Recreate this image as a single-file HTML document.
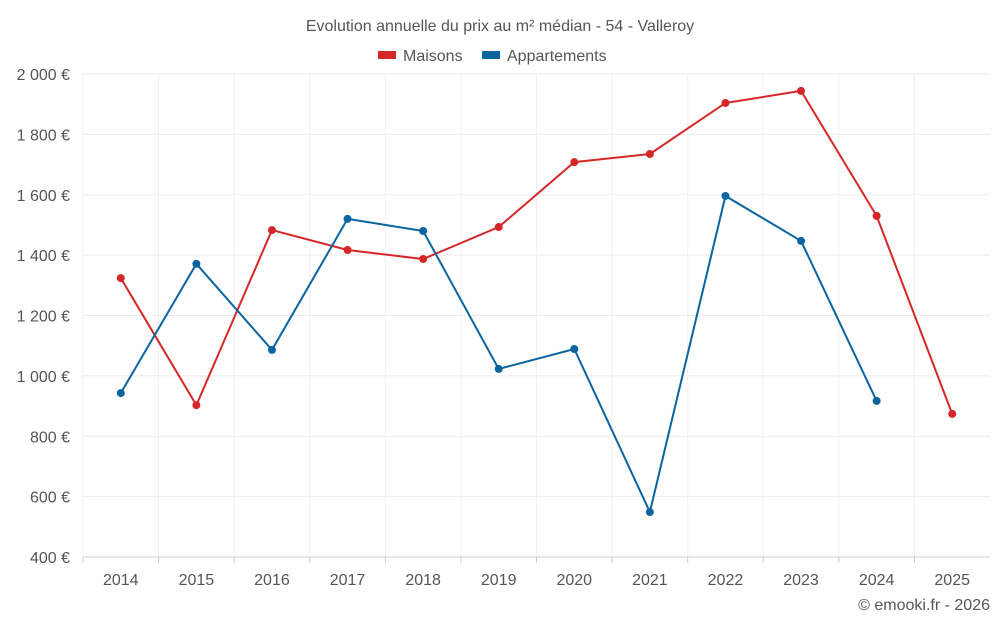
<!DOCTYPE html>
<html><head><meta charset="utf-8"><style>
body{margin:0;background:#fff;font-family:"Liberation Sans",sans-serif;}
svg text{font-family:"Liberation Sans",sans-serif;fill:#555;}
</style></head><body>
<svg id="c" width="1000" height="625"></svg>
<script>
const years=["2014","2015","2016","2017","2018","2019","2020","2021","2022","2023","2024","2025"];
const maisons=[1324,903,1483,1417,1387,1493,1708,1735,1904,1944,1530,874];
const apparts=[943,1371,1086,1520,1480,1023,1089,549,1596,1447,917,null];
const yTicks=[400,600,800,1000,1200,1400,1600,1800,2000];
const yTickLabels=["400 €","600 €","800 €","1 000 €","1 200 €","1 400 €","1 600 €","1 800 €","2 000 €"];
const svg=document.getElementById('c');const NS="http://www.w3.org/2000/svg";
const L=83,R=990,T=74,B=557;
const xs=i=>L+(R-L)/years.length*(i+0.5);
const ys=v=>B-(v-400)/1600*(B-T);
function mk(t,a,p){const e=document.createElementNS(NS,t);for(const k in a)e.setAttribute(k,a[k]);(p||svg).appendChild(e);return e;}
const title=mk('text',{x:500,y:31,'text-anchor':'middle','font-size':16});title.textContent="Evolution annuelle du prix au m² médian - 54 - Valleroy";


yTicks.forEach((v,i)=>{const g=mk('line',{x1:L,x2:R,y1:ys(v),y2:ys(v),stroke:'#ebebeb'});


const t=mk('text',{x:70,y:ys(v)+6,'text-anchor':'end','font-size':16});t.textContent=yTickLabels[i];

});
years.forEach((y,i)=>{const bx=L+(R-L)/years.length*i;
const g=mk('line',{x1:bx,x2:bx,y1:T,y2:B,stroke:'#f0f0f0'});


const tk=mk('line',{x1:bx,x2:bx,y1:B,y2:B+6,stroke:'#ccc'});


const t=mk('text',{x:xs(i),y:585,'text-anchor':'middle','font-size':16});t.textContent=y;

});
const ax=mk('line',{x1:L,x2:R,y1:B,y2:B,stroke:'#ccc'});


function series(data,color,name){let d="";data.forEach((v,i)=>{if(v==null)return;d+=(d?"L":"M")+xs(i)+","+ys(v);});
const p=mk('path',{d:d,fill:'none',stroke:color,'stroke-width':2});


data.forEach((v,i)=>{if(v==null)return;const c=mk('circle',{cx:xs(i),cy:ys(v),r:4,fill:color});

});}
series(maisons,'#d62728','maisons');
series(apparts,'#0a64a0','appartements');
const lg=[["Maisons","#d62728",378],["Appartements","#0a64a0",482]];
lg.forEach(l=>{const r=mk('rect',{x:l[2],y:51,width:18,height:8,fill:l[1]});


const t=mk('text',{x:l[2]+25,y:61,'font-size':16});t.textContent=l[0];

});
const cr=mk('text',{x:990,y:610,'text-anchor':'end','font-size':16});cr.textContent="© emooki.fr - 2026";


</script></body></html>
